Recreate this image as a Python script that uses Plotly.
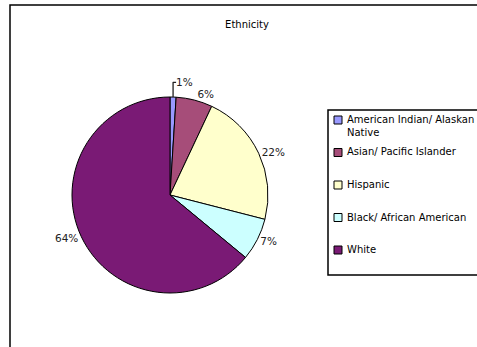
import plotly.graph_objects as go

W, H = 477, 347

categories = ["American Indian/ Alaskan<br>Native", "Asian/ Pacific Islander", "Hispanic",
              "Black/ African American", "White"]
values = [1, 6, 22, 7, 64]
colors = ["#9999ff", "#a64d79", "#ffffcc", "#ccffff", "#7a1a75"]

fig = go.Figure(go.Pie(
    labels=categories,
    values=values,
    sort=False,
    direction="clockwise",
    rotation=0,
    marker=dict(colors=colors, line=dict(color="black", width=1)),
    textposition="outside",
    texttemplate="%{percent:.0%}",
    textfont=dict(family="DejaVu Sans", size=10.5, color="#222"),
    hoverinfo="label+percent",
    domain=dict(x=[72 / W, 268 / W], y=[1 - 293 / H, 1 - 97 / H]),
    showlegend=False,
))

# legend drawn as a box with swatches and labels, built from the category lists
shapes = [dict(type="rect", xref="paper", yref="paper",
               x0=10 / W, x1=1.2, y0=-0.2, y1=1 - 5 / H,
               line=dict(color="black", width=1.5), fillcolor="rgba(0,0,0,0)", layer="below"),
          dict(type="rect", xref="paper", yref="paper",
               x0=328 / W, x1=1.2, y0=1 - 275 / H, y1=1 - 110 / H,
               line=dict(color="black", width=1.5), fillcolor="white", layer="below")]
annotations = []
leg_top, leg_step = 120, 32.5
for i, (lab, col) in enumerate(zip(categories, colors)):
    yc = leg_top + i * leg_step
    shapes.append(dict(type="rect", xref="paper", yref="paper",
                       x0=334 / W, x1=342 / W, y0=1 - (yc + 4) / H, y1=1 - (yc - 4) / H,
                       line=dict(color="black", width=1), fillcolor=col))
    annotations.append(dict(xref="paper", yref="paper", x=346 / W, y=1 - (yc - 7) / H,
                            xanchor="left", yanchor="top", align="left", showarrow=False,
                            text=lab, borderpad=0,
                            font=dict(family="DejaVu Sans", size=10, color="black")))

fig.update_layout(
    width=W, height=H,
    margin=dict(l=0, r=0, t=0, b=0),
    paper_bgcolor="white",
    plot_bgcolor="white",
    font=dict(family="DejaVu Sans", size=10, color="black"),
    title=dict(text="Ethnicity", x=247 / W, xanchor="center", y=1 - 24 / H, yanchor="middle",
               font=dict(family="DejaVu Sans", size=10, color="black")),
    showlegend=False,
    shapes=shapes,
    annotations=annotations,
)

fig.write_html("out.html")
